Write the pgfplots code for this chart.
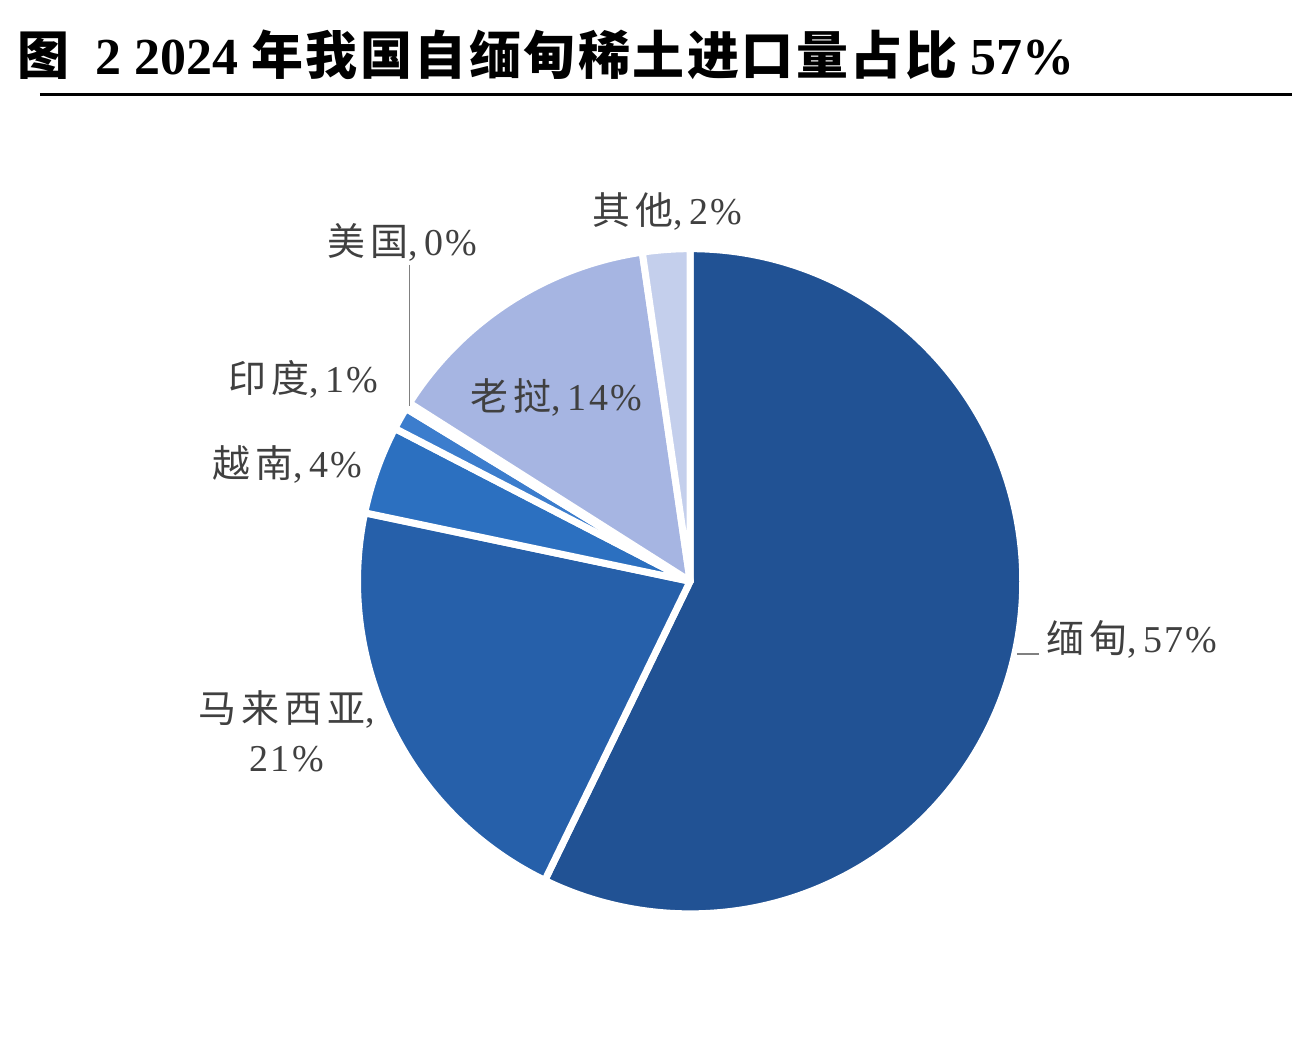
\documentclass[border=0pt]{standalone}
\usepackage{pgfplots}
\pgfplotsset{compat=1.18}
\usepackage{fontspec}
\setmainfont{Liberation Serif}
\newfontfamily\cjk{Noto Sans CJK SC}
\newfontfamily\cjkt{Noto Sans CJK SC}[LetterSpace=5]
\newfontfamily\cjkl{Noto Sans CJK SC}[LetterSpace=14]
\newfontfamily\lab{Liberation Serif}[LetterSpace=6]
\definecolor{cMy}{RGB}{33,82,148}
\definecolor{cMa}{RGB}{38,96,170}
\definecolor{cVi}{RGB}{44,112,192}
\definecolor{cIn}{RGB}{60,125,205}
\definecolor{cUS}{RGB}{130,160,215}
\definecolor{cLa}{RGB}{166,181,226}
\definecolor{cOt}{RGB}{196,207,236}
\definecolor{txt}{RGB}{64,64,64}
% shares in percent
\def\vMy{57.2}\def\vMa{21.1}\def\vVi{4.3}\def\vIn{1.1}\def\vUS{0.3}\def\vLa{13.7}\def\vOt{2.3}
\pgfmathsetmacro\aO{90}
\pgfmathsetmacro\aA{\aO-3.6*\vMy}
\pgfmathsetmacro\aB{\aA-3.6*\vMa}
\pgfmathsetmacro\aC{\aB-3.6*\vVi}
\pgfmathsetmacro\aD{\aC-3.6*\vIn}
\pgfmathsetmacro\aE{\aD-3.6*\vUS}
\pgfmathsetmacro\aF{\aE-3.6*\vLa}
\pgfmathsetmacro\aG{\aF-3.6*\vOt}
\begin{document}
\begin{tikzpicture}
\begin{axis}[x=0.5pt, y=0.5pt, xmin=0, xmax=1294, ymin=0, ymax=1042,
  scale only axis, hide axis, clip=false]
\path (axis cs:0,0) rectangle (axis cs:1294,1042);
% title
\node[anchor=base west, inner sep=0pt, font=\fontsize{26}{28}\selectfont\bfseries] at (axis cs:17,967)
  {{\cjkt 图}\ \ 2 2024 {\cjkt 年我国自缅甸稀土进口量占比} 57\%};
\draw[line width=1.6pt, black] (axis cs:40,947) -- (axis cs:1294,947);
% slices
\tikzset{sl/.style={draw=white, line width=3.5pt, line join=round}}
\fill[cMy, sl] (axis cs:691,460) -- ++(\aO:166.5pt) arc[start angle=\aO, end angle=\aA, radius=166.5pt] -- cycle;
\fill[cMa, sl] (axis cs:691,460) -- ++(\aA:166.5pt) arc[start angle=\aA, end angle=\aB, radius=166.5pt] -- cycle;
\fill[cVi, sl] (axis cs:691,460) -- ++(\aB:166.5pt) arc[start angle=\aB, end angle=\aC, radius=166.5pt] -- cycle;
\fill[cIn, sl] (axis cs:691,460) -- ++(\aC:166.5pt) arc[start angle=\aC, end angle=\aD, radius=166.5pt] -- cycle;
\fill[cUS, sl] (axis cs:691,460) -- ++(\aD:166.5pt) arc[start angle=\aD, end angle=\aE, radius=166.5pt] -- cycle;
\fill[cLa, sl] (axis cs:691,460) -- ++(\aE:166.5pt) arc[start angle=\aE, end angle=\aF, radius=166.5pt] -- cycle;
\fill[cOt, sl] (axis cs:691,460) -- ++(\aF:166.5pt) arc[start angle=\aF, end angle=\aG, radius=166.5pt] -- cycle;
% labels
\tikzset{lb/.style={text=txt, inner sep=0pt, font=\fontsize{19}{22}\selectfont\lab, align=center}}
\node[lb] at (axis cs:668,830) {{\cjkl 其他},\,2\%};
\node[lb] at (axis cs:403,799) {{\cjkl 美国},\,0\%};
\draw[gray, line width=0.8pt] (axis cs:410,777) -- (axis cs:410,635);
\node[lb] at (axis cs:304,662) {{\cjkl 印度},\,1\%};
\node[lb] at (axis cs:288,577) {{\cjkl 越南},\,4\%};
\node[lb] at (axis cs:557,644) {{\cjkl 老挝},\,14\%};
\node[lb, anchor=west] at (axis cs:1047,402) {{\cjkl 缅甸},\,57\%};
\draw[gray, line width=0.8pt] (axis cs:1018,387) -- (axis cs:1040,387);
\node[lb] at (axis cs:287,332) {{\cjkl 马来西亚},};
\node[lb] at (axis cs:287,282) {21\%};
\end{axis}
\end{tikzpicture}
\end{document}
